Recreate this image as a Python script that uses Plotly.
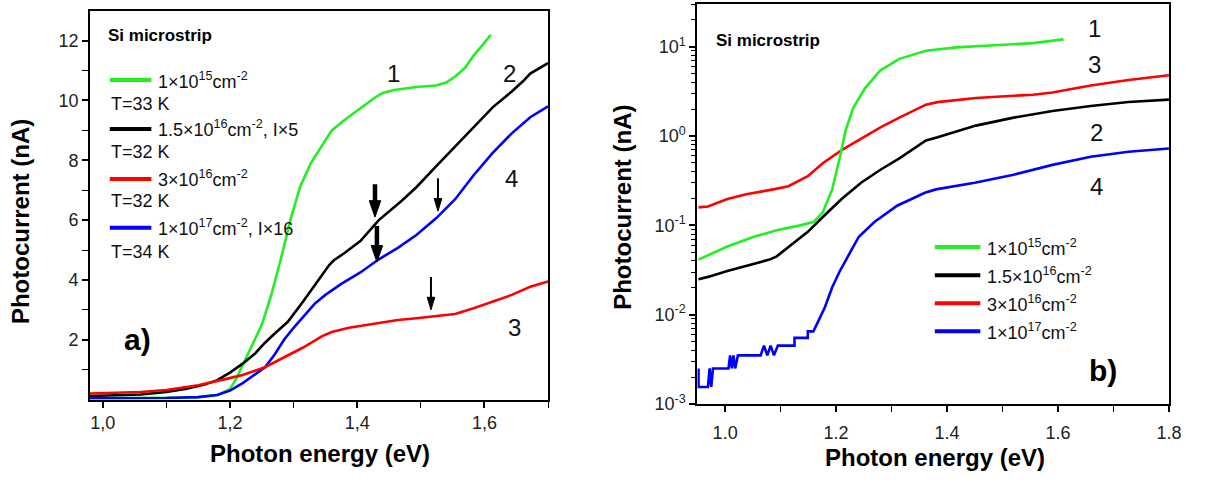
import plotly.graph_objects as go

W, H = 1206, 483
FONT = "Liberation Sans, Arial, sans-serif"

# ---------------- Panel a data (linear scale) ----------------
a_green_x = [0.98, 1.05, 1.10, 1.15, 1.18, 1.20, 1.21, 1.22, 1.235, 1.25, 1.265, 1.28, 1.295, 1.31, 1.327,
             1.345, 1.36, 1.38, 1.405, 1.428, 1.44, 1.458, 1.493, 1.524, 1.54, 1.554, 1.57, 1.583, 1.597, 1.61]
a_green_y = [0.05, 0.05, 0.06, 0.08, 0.15, 0.35, 0.7, 1.15, 1.8, 2.5, 3.5, 4.7, 6.0, 7.1, 7.9,
             8.5, 9.0, 9.35, 9.75, 10.1, 10.25, 10.35, 10.45, 10.5, 10.6, 10.8, 11.1, 11.5, 11.85, 12.2]

a_black_x = [0.98, 1.02, 1.06, 1.10, 1.13, 1.16, 1.18, 1.20, 1.22, 1.24, 1.255, 1.27, 1.291, 1.315, 1.339,
             1.356, 1.363, 1.38, 1.405, 1.434, 1.47, 1.493, 1.524, 1.554, 1.583, 1.613, 1.643, 1.661, 1.672, 1.70]
a_black_y = [0.12, 0.14, 0.17, 0.25, 0.35, 0.5, 0.65, 0.9, 1.2, 1.55, 1.9, 2.2, 2.6, 3.28, 3.97,
             4.5, 4.65, 4.9, 5.3, 6.0, 6.65, 7.1, 7.8, 8.46, 9.1, 9.77, 10.3, 10.65, 10.9, 11.25]

a_red_x = [0.98, 1.02, 1.06, 1.10, 1.15, 1.196, 1.22, 1.255, 1.285, 1.315, 1.345, 1.36, 1.387, 1.434,
           1.464, 1.493, 1.524, 1.554, 1.583, 1.613, 1.643, 1.672, 1.70]
a_red_y = [0.2, 0.22, 0.25, 0.32, 0.48, 0.7, 0.82, 1.08, 1.41, 1.74, 2.12, 2.26, 2.4, 2.56,
           2.66, 2.72, 2.78, 2.86, 3.05, 3.28, 3.5, 3.77, 3.95]

a_blue_x = [0.98, 1.05, 1.10, 1.15, 1.18, 1.20, 1.22, 1.24, 1.255, 1.27, 1.285, 1.30, 1.315, 1.333, 1.35,
            1.36, 1.375, 1.405, 1.434, 1.464, 1.493, 1.524, 1.554, 1.583, 1.613, 1.643, 1.672, 1.70]
a_blue_y = [0.04, 0.04, 0.05, 0.08, 0.15, 0.3, 0.55, 0.85, 1.08, 1.5, 2.0, 2.4, 2.78, 3.2, 3.5,
            3.64, 3.87, 4.25, 4.69, 5.07, 5.5, 6.06, 6.7, 7.5, 8.25, 8.9, 9.44, 9.8]

# arrows in panel a: (x, tail y, tip y, thick?)
a_arrows = [(1.428, 7.2, 6.1, True), (1.431, 5.8, 4.6, True), (1.527, 7.4, 6.3, False), (1.516, 4.1, 3.0, False)]

# ---------------- Panel b data (log scale) ----------------
b_green_x = [0.952, 1.004, 1.052, 1.093, 1.135, 1.159, 1.176, 1.193, 1.207, 1.217, 1.231, 1.252, 1.28,
             1.314, 1.362, 1.417, 1.486, 1.555, 1.61]
b_green_y = [0.0414, 0.058, 0.0746, 0.088, 0.1, 0.109, 0.14, 0.253, 0.587, 1.15, 2.07, 3.43, 5.46,
             7.33, 9.04, 9.85, 10.4, 11.0, 12.1]

b_black_x = [0.952, 0.969, 1.004, 1.038, 1.08, 1.093, 1.12, 1.149, 1.176, 1.21, 1.245, 1.28, 1.314,
             1.362, 1.383, 1.452, 1.52, 1.59, 1.659, 1.727, 1.80]
b_black_y = [0.025, 0.0265, 0.0308, 0.035, 0.0414, 0.045, 0.0605, 0.0847, 0.124, 0.197, 0.3, 0.42, 0.562,
             0.895, 0.97, 1.31, 1.61, 1.91, 2.17, 2.41, 2.56]

b_red_x = [0.952, 0.969, 1.004, 1.038, 1.087, 1.114, 1.149, 1.176, 1.21, 1.245, 1.28, 1.314, 1.362,
           1.383, 1.452, 1.52, 1.555, 1.59, 1.659, 1.727, 1.80]
b_red_y = [0.159, 0.163, 0.197, 0.223, 0.253, 0.275, 0.355, 0.496, 0.695, 0.93, 1.25, 1.61, 2.25,
           2.4, 2.67, 2.83, 2.9, 3.08, 3.68, 4.24, 4.8]

b_blue_x = [0.952, 0.952, 0.969, 0.972, 0.975, 0.978, 0.982, 1.006, 1.009, 1.012, 1.015, 1.018, 1.023,
            1.064, 1.07, 1.076, 1.082, 1.088, 1.095, 1.101, 1.125, 1.125, 1.149, 1.149, 1.159, 1.166,
            1.18, 1.193, 1.207, 1.228, 1.241, 1.269, 1.31, 1.36, 1.38, 1.45, 1.52, 1.59, 1.659, 1.727, 1.80]
b_blue_y = [0.0025, 0.00155, 0.00155, 0.0025, 0.00155, 0.0025, 0.0025, 0.0025, 0.0035, 0.0025, 0.0035,
            0.0025, 0.0035, 0.0035, 0.0045, 0.0035, 0.0045, 0.0035, 0.0045, 0.0045, 0.0045, 0.0055,
            0.0055, 0.0065, 0.0065, 0.008, 0.0122, 0.0203, 0.031, 0.0534, 0.0747, 0.109, 0.166, 0.232,
            0.253, 0.3, 0.37, 0.476, 0.587, 0.667, 0.725]

colors = {"green": "#22ee22", "black": "#000000", "red": "#ff0000", "blue": "#0000ff"}

a_tick_vals = [1.0, 1.2, 1.4, 1.6]
a_tick_text = ["1,0", "1,2", "1,4", "1,6"]
a_minor_vals = [1.1, 1.3, 1.5, 1.7]
a_ytick_vals = [2, 4, 6, 8, 10, 12]
a_ytick_text = ["2", "4", "6", "8", "10", "12"]
a_yminor_vals = [1, 3, 5, 7, 9, 11]

b_tick_vals = [1.0, 1.2, 1.4, 1.6, 1.8]
b_tick_text = ["1.0", "1.2", "1.4", "1.6", "1.8"]
b_minor_vals = [1.1, 1.3, 1.5, 1.7]
b_ytick_vals = [0.001, 0.01, 0.1, 1, 10]
b_ytick_text = ["10<sup>-3</sup>", "10<sup>-2</sup>", "10<sup>-1</sup>", "10<sup>0</sup>", "10<sup>1</sup>"]
b_yminor_vals = [m * d for d in [0.001, 0.01, 0.1, 1, 10] for m in range(2, 10) if m * d <= 30]

legend_a = [("green", "1×10<sup>15</sup>cm<sup>-2</sup>", "T=33 K"),
            ("black", "1.5×10<sup>16</sup>cm<sup>-2</sup>, I×5", "T=32 K"),
            ("red", "3×10<sup>16</sup>cm<sup>-2</sup>", "T=32 K"),
            ("blue", "1×10<sup>17</sup>cm<sup>-2</sup>, I×16", "T=34 K")]
legend_b = [("green", "1×10<sup>15</sup>cm<sup>-2</sup>"),
            ("black", "1.5×10<sup>16</sup>cm<sup>-2</sup>"),
            ("red", "3×10<sup>16</sup>cm<sup>-2</sup>"),
            ("blue", "1×10<sup>17</sup>cm<sup>-2</sup>")]


def PX(x):
    return x / W


def PY(y):
    return 1 - y / H


fig = go.Figure()
LW = 2.6
for name, xs, ys in [("green", a_green_x, a_green_y), ("black", a_black_x, a_black_y),
                     ("blue", a_blue_x, a_blue_y), ("red", a_red_x, a_red_y)]:
    fig.add_trace(go.Scatter(x=xs, y=ys, mode="lines", line=dict(color=colors[name], width=LW),
                             xaxis="x", yaxis="y", showlegend=False, hoverinfo="skip"))
for name, xs, ys in [("red", b_red_x, b_red_y), ("black", b_black_x, b_black_y),
                     ("green", b_green_x, b_green_y), ("blue", b_blue_x, b_blue_y)]:
    fig.add_trace(go.Scatter(x=xs, y=ys, mode="lines", line=dict(color=colors[name], width=LW),
                             xaxis="x2", yaxis="y2", showlegend=False, hoverinfo="skip"))

axis_common = dict(showline=True, linecolor="black", linewidth=2, mirror=True, ticks="outside",
                   ticklen=6, tickwidth=1.5, tickcolor="black", showgrid=False, zeroline=False,
                   tickfont=dict(family=FONT, size=18, color="#222"))


def minor(vals, length=6):
    return dict(tickmode="array", tickvals=vals, ticks="outside", ticklen=length,
                tickcolor="black", tickwidth=1.3, showgrid=False)


fig.update_layout(
    width=W, height=H, margin=dict(l=0, r=0, t=0, b=0),
    paper_bgcolor="white", plot_bgcolor="white",
    xaxis=dict(domain=[PX(91), PX(554)], range=[0.98, 1.7], tickmode="array",
               tickvals=a_tick_vals, ticktext=a_tick_text, anchor="y", minor=minor(a_minor_vals),
               **axis_common),
    yaxis=dict(domain=[PY(408), PY(11)], range=[0, 13], tickmode="array",
               tickvals=a_ytick_vals, ticktext=a_ytick_text, anchor="x", minor=minor(a_yminor_vals),
               **axis_common),
    xaxis2=dict(domain=[PX(705), PX(1181.7)], range=[0.95, 1.8], tickmode="array",
                tickvals=b_tick_vals, ticktext=b_tick_text, anchor="y2", minor=minor(b_minor_vals),
                ticklabelstandoff=5, **axis_common),
    yaxis2=dict(domain=[PY(412.5), PY(4.3)], type="log", range=[-3, 1.477], tickmode="array",
                tickvals=b_ytick_vals, ticktext=b_ytick_text, anchor="x2",
                minor=minor(b_yminor_vals, 4), **axis_common),
)

ann = []
shapes = []


def text(x, y, s, size=18, weight="normal", xanchor="left", angle=0, color="#111"):
    ann.append(dict(x=PX(x), y=PY(y), xref="paper", yref="paper", text=s, showarrow=False,
                    xanchor=xanchor, yanchor="middle", textangle=angle,
                    font=dict(family=FONT, size=size, color=color, weight=weight)))


# axis titles
text(323, 463, "Photon energy (eV)", size=24, weight="bold", xanchor="center", color="black")
text(945, 467, "Photon energy (eV)", size=24, weight="bold", xanchor="center", color="black")
text(21, 226, "Photocurrent (nA)", size=24, weight="bold", xanchor="center", angle=-90, color="black")
text(629, 212, "Photocurrent (nA)", size=24, weight="bold", xanchor="center", angle=-90, color="black")

# panel a texts
text(107, 36, "Si microstrip", size=17, weight="bold", color="black")
for i, (c, lab, t) in enumerate(legend_a):
    yl = [81.7, 131.7, 182.7, 232.5][i]
    yt = [106, 155, 205, 257][i]
    shapes.append(dict(type="line", xref="paper", yref="paper", x0=PX(111), x1=PX(153),
                       y0=PY(yl), y1=PY(yl), line=dict(color=colors[c], width=4)))
    text(158, yl, lab, size=18)
    text(110, yt, t, size=18)
for lab, x, y in [("1", 398, 75), ("2", 515, 75), ("4", 517, 182), ("3", 520, 334)]:
    text(x, y, lab, size=24, xanchor="center")
text(139, 347, "a)", size=30, weight="bold", xanchor="center", color="black")

# panel b texts
text(722, 41, "Si microstrip", size=17, weight="bold", color="black")
for i, (c, lab) in enumerate(legend_b):
    yl = [252.3, 281, 309.7, 338.3][i]
    shapes.append(dict(type="line", xref="paper", yref="paper", x0=PX(945), x1=PX(991),
                       y0=PY(yl), y1=PY(yl), line=dict(color=colors[c], width=4)))
    text(996, yl, lab, size=18)
for lab, x, y in [("1", 1106, 29), ("3", 1106, 66), ("2", 1108, 135), ("4", 1108, 190)]:
    text(x, y, lab, size=24, xanchor="center")
text(1115, 378, "b)", size=30, weight="bold", xanchor="center", color="black")

# arrows in panel a, drawn as shaft + filled head in data coordinates
for x, ytail, ytip, thick in a_arrows:
    hw = 0.009 if thick else 0.006      # half-width of head (eV)
    hl = 0.55 if thick else 0.42        # head length (nA)
    sw = 4.5 if thick else 2            # shaft width (px)
    shapes.append(dict(type="line", xref="x", yref="y", x0=x, x1=x, y0=ytail, y1=ytip + hl * 0.8,
                       line=dict(color="black", width=sw)))
    shapes.append(dict(type="path", xref="x", yref="y",
                       path=f"M {x - hw},{ytip + hl} L {x + hw},{ytip + hl} L {x},{ytip} Z",
                       fillcolor="black", line=dict(color="black", width=1)))

fig.update_layout(annotations=ann, shapes=shapes)
fig.write_html("out.html")
